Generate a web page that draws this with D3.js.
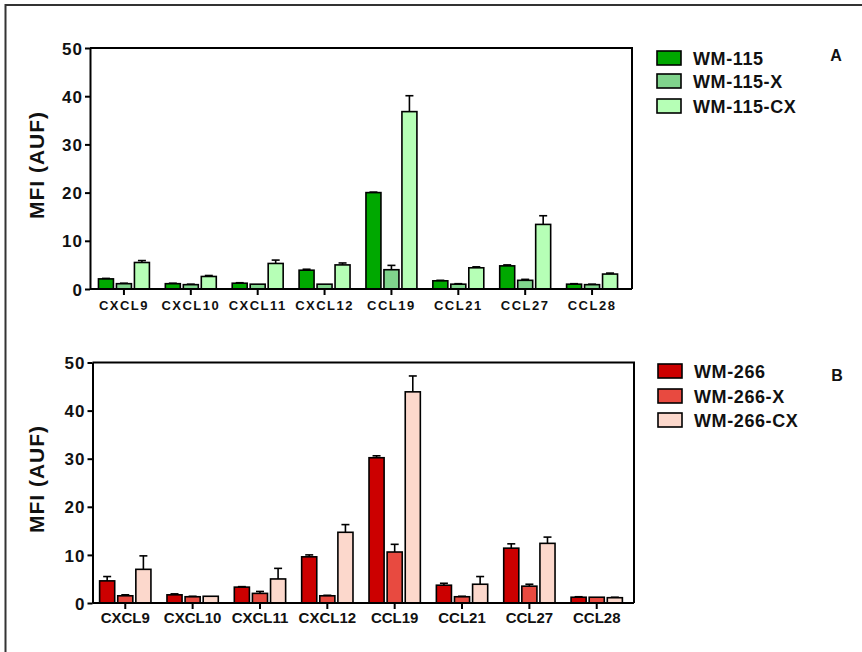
<!DOCTYPE html>
<html>
<head>
<meta charset="utf-8">
<script src="https://cdn.jsdelivr.net/npm/d3@7"></script>
<style>
  html, body { margin: 0; padding: 0; background: #fff; }
  svg { display: block; font-family: "Liberation Sans", Arial, sans-serif; }
</style>
</head>
<body>
<svg id="chart" width="862" height="652"></svg>
<script>
// Chemokine categories (x axis)
const categories = ["CXCL9", "CXCL10", "CXCL11", "CXCL12", "CCL19", "CCL21", "CCL27", "CCL28"];
const yTicks = [0, 10, 20, 30, 40, 50];

// Panel A: WM-115 lines, mean and SEM
const wm115      = [2.1, 1.1, 1.2, 3.9, 20.0, 1.7, 4.8, 1.0];
const wm115Err   = [0.1, 0.1, 0.1, 0.2, 0.1, 0.1, 0.2, 0.1];
const wm115X     = [1.1, 0.9, 1.0, 1.0, 4.0, 1.0, 1.8, 0.9];
const wm115XErr  = [0.1, 0.1, 0.0, 0.0, 0.9, 0.1, 0.2, 0.1];
const wm115CX    = [5.5, 2.6, 5.3, 5.0, 36.8, 4.4, 13.4, 3.1];
const wm115CXErr = [0.4, 0.2, 0.7, 0.4, 3.3, 0.2, 1.8, 0.2];

// Panel B: WM-266 lines, mean and SEM
const wm266      = [4.6, 1.7, 3.3, 9.6, 30.2, 3.7, 11.4, 1.2];
const wm266Err   = [0.9, 0.2, 0.1, 0.4, 0.4, 0.4, 0.9, 0.1];
const wm266X     = [1.5, 1.3, 2.0, 1.5, 10.6, 1.3, 3.5, 1.2];
const wm266XErr  = [0.2, 0.1, 0.4, 0.1, 1.6, 0.1, 0.4, 0.0];
const wm266CX    = [7.0, 1.4, 5.0, 14.7, 43.9, 3.9, 12.4, 1.1];
const wm266CXErr = [2.8, 0.0, 2.2, 1.6, 3.3, 1.6, 1.3, 0.1];

const panels = [
  {
    tag: "A",
    series: [
      { name: "WM-115",    values: wm115,   errors: wm115Err,   color: "#00a800" },
      { name: "WM-115-X",  values: wm115X,  errors: wm115XErr,  color: "#80d48c" },
      { name: "WM-115-CX", values: wm115CX, errors: wm115CXErr, color: "#b6ffb6" }
    ],
    box: { left: 90, right: 632, top: 48, bottom: 289 },
    band: [90.5, 625.5],
    catFont: 13, catSpacing: 1.5, catOffset: 21,
    legend: { x: 657, y: [51, 74, 99] },
    labelY: 165,
    tagPos: [836, 61]
  },
  {
    tag: "B",
    series: [
      { name: "WM-266",    values: wm266,   errors: wm266Err,   color: "#cc0000" },
      { name: "WM-266-X",  values: wm266X,  errors: wm266XErr,  color: "#e84a40" },
      { name: "WM-266-CX", values: wm266CX, errors: wm266CXErr, color: "#fcd8cc" }
    ],
    box: { left: 92.5, right: 634, top: 362.5, bottom: 603 },
    band: [91.6, 630.4],
    catFont: 15, catSpacing: 0, catOffset: 20,
    legend: { x: 658, y: [364, 389, 413] },
    labelY: 479,
    tagPos: [837, 381]
  }
];

const svg = d3.select("#chart");

// Outer frame: left and top edges only
svg.append("path")
  .attr("d", "M5.5,652 L5.5,5 L862,5")
  .attr("fill", "none")
  .attr("stroke", "#333")
  .attr("stroke-width", 2);

panels.forEach(p => {
  const g = svg.append("g");
  const b = p.box;

  const y = d3.scaleLinear().domain([0, 50]).range([b.bottom, b.top]);
  const x = d3.scaleBand().domain(categories).range(p.band)
    .paddingInner(0.238).paddingOuter(0.119);
  const xs = d3.scaleBand().domain(p.series.map(s => s.name))
    .range([0, x.bandwidth()]).paddingInner(1 / 6);

  // plot frame (top and right edges)
  g.append("path")
    .attr("d", `M${b.left},${b.top} L${b.right},${b.top} L${b.right},${b.bottom}`)
    .attr("fill", "none").attr("stroke", "#000").attr("stroke-width", 2);

  // bars
  p.series.forEach(s => {
    const sg = g.append("g");
    categories.forEach((c, i) => {
      const bx = x(c) + xs(s.name);
      const bw = xs.bandwidth();
      sg.append("rect")
        .attr("x", bx).attr("y", y(s.values[i]))
        .attr("width", bw).attr("height", y(0) - y(s.values[i]))
        .attr("fill", s.color).attr("stroke", "#000").attr("stroke-width", 1.6);
      if (s.errors[i] > 0) {
        const cx = bx + bw / 2;
        const top = y(s.values[i] + s.errors[i]);
        sg.append("line")
          .attr("x1", cx).attr("x2", cx)
          .attr("y1", y(s.values[i])).attr("y2", top)
          .attr("stroke", "#000").attr("stroke-width", 1.6);
        sg.append("line")
          .attr("x1", cx - 4).attr("x2", cx + 4)
          .attr("y1", top).attr("y2", top)
          .attr("stroke", "#000").attr("stroke-width", 1.6);
      }
    });
  });

  // y axis
  const ya = g.append("g")
    .attr("transform", `translate(${b.left},0)`)
    .call(d3.axisLeft(y).tickValues(yTicks).tickSize(5).tickPadding(2).tickSizeOuter(0));
  ya.select(".domain").attr("stroke", "#000").attr("stroke-width", 2);
  ya.selectAll(".tick line").attr("stroke", "#000").attr("stroke-width", 2);
  ya.selectAll(".tick text")
    .attr("fill", "#111").attr("font-size", 17).attr("font-weight", "bold")
    .attr("letter-spacing", 1).attr("dy", "0.36em");

  // x axis
  const xa = g.append("g")
    .attr("transform", `translate(0,${b.bottom})`)
    .call(d3.axisBottom(x).tickSize(6).tickSizeOuter(0).tickPadding(p.catOffset - 18));
  xa.select(".domain").attr("d", `M${b.left},0 L${b.right},0`)
    .attr("stroke", "#000").attr("stroke-width", 2);
  xa.selectAll(".tick line").attr("stroke", "#000").attr("stroke-width", 2);
  xa.selectAll(".tick text")
    .attr("fill", "#111").attr("font-size", p.catFont).attr("font-weight", "bold")
    .attr("letter-spacing", p.catSpacing)
    .attr("y", p.catOffset).attr("dy", 0);

  // y-axis title
  g.append("text")
    .attr("transform", `translate(44,${p.labelY}) rotate(-90)`)
    .attr("text-anchor", "middle")
    .attr("font-size", 21).attr("font-weight", "bold").attr("letter-spacing", 1)
    .attr("fill", "#111")
    .text("MFI (AUF)");

  // legend
  p.series.forEach((s, i) => {
    g.append("rect")
      .attr("x", p.legend.x).attr("y", p.legend.y[i])
      .attr("width", 24).attr("height", 14)
      .attr("fill", s.color).attr("stroke", "#000").attr("stroke-width", 1.6);
    g.append("text")
      .attr("x", p.legend.x + 36).attr("y", p.legend.y[i] + 13.5)
      .attr("font-size", 18).attr("font-weight", "bold").attr("letter-spacing", 0.6)
      .attr("fill", "#111")
      .text(s.name);
  });

  // panel tag
  g.append("text")
    .attr("x", p.tagPos[0]).attr("y", p.tagPos[1])
    .attr("text-anchor", "middle")
    .attr("font-size", 16).attr("font-weight", "bold")
    .attr("fill", "#111")
    .text(p.tag);
});
</script>
</body>
</html>
